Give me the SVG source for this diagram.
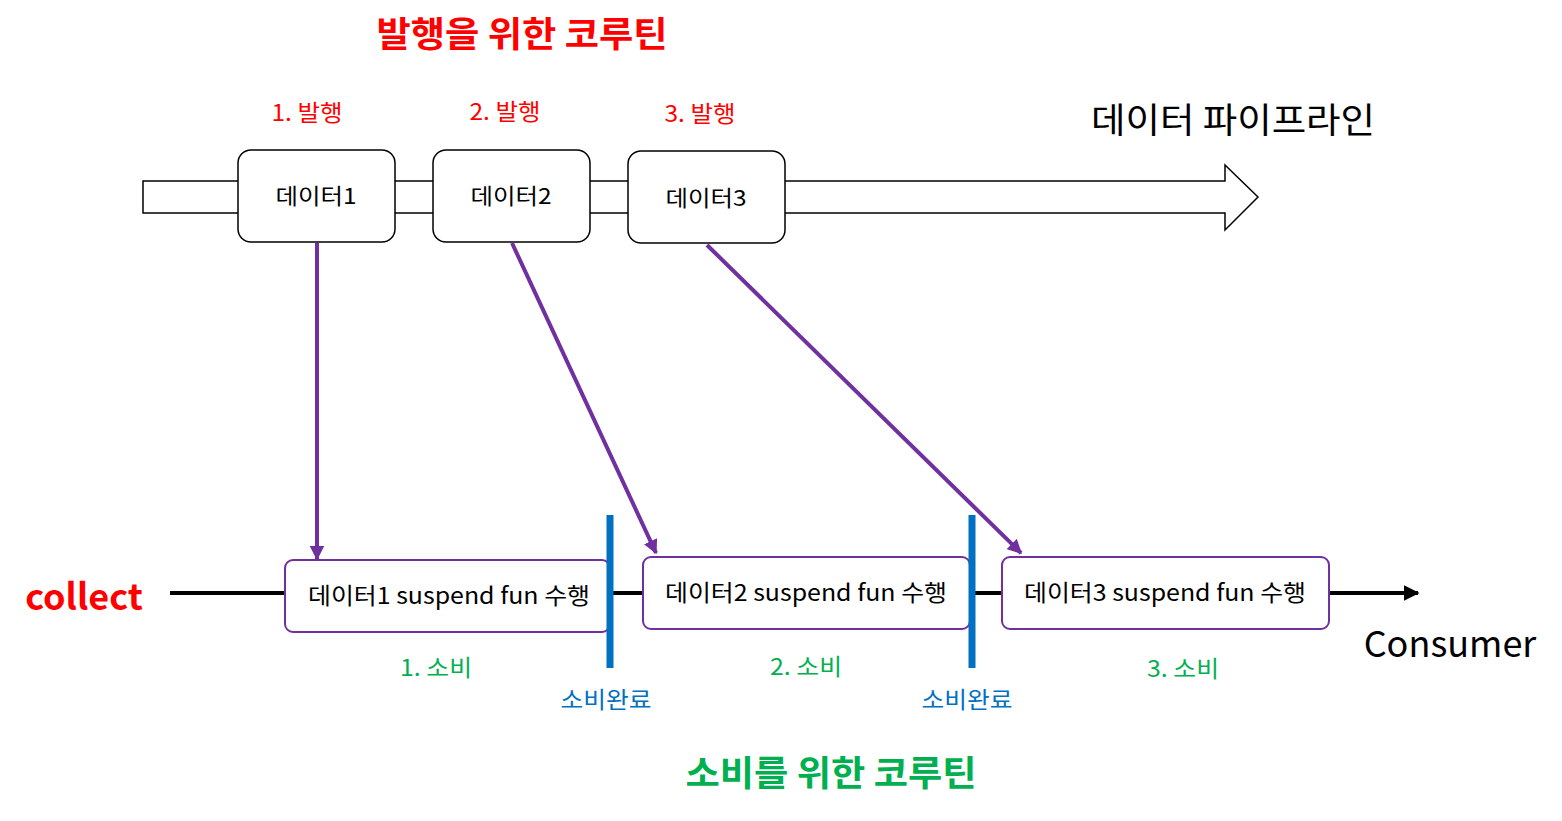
<svg xmlns="http://www.w3.org/2000/svg" width="1562" height="821" viewBox="0 0 1562 821">
<defs>
<style>
text{font-family:"Noto Sans CJK KR","Noto Sans",sans-serif;}
.dbox{fill:#fff;stroke:#000;stroke-width:1.5;}
.sbox{fill:#fff;stroke:#7030A0;stroke-width:2;}
.dt{font-size:22px;fill:#000;text-anchor:middle;}
.st{font-size:23px;fill:#000;text-anchor:middle;}
.red{fill:#FF0000;font-size:23px;text-anchor:middle;}
.grn{fill:#00B050;font-size:23px;text-anchor:middle;}
.blu{fill:#0070C0;font-size:23px;text-anchor:middle;}
.big{font-size:35px;text-anchor:middle;}
.pa{stroke:#7030A0;stroke-width:4;fill:none;marker-end:url(#pm);}
.bar{stroke:#0070C0;stroke-width:7;}
</style>
<marker id="pm" viewBox="0 0 10 10" refX="9" refY="5" markerWidth="3.6" markerHeight="3.6" orient="auto" markerUnits="strokeWidth">
<path d="M0,0 L10,5 L0,10 z" fill="#7030A0"/>
</marker>
<marker id="bm" viewBox="0 0 10 10" refX="9" refY="5" markerWidth="4" markerHeight="4" orient="auto" markerUnits="strokeWidth">
<path d="M0,0 L10,5 L0,10 z" fill="#000"/>
</marker>
</defs>
<rect width="1562" height="821" fill="#fff"/>

<g id="titles">
<text x="522" y="47" class="big" font-weight="bold" fill="#FF0000" textLength="291" lengthAdjust="spacingAndGlyphs">발행을 위한 코루틴</text>
<text x="1233" y="133" class="big" fill="#000" textLength="284" lengthAdjust="spacingAndGlyphs">데이터 파이프라인</text>
<text x="831" y="786" class="big" font-weight="bold" fill="#00B050" textLength="291" lengthAdjust="spacingAndGlyphs">소비를 위한 코루틴</text>
<text x="84" y="610" font-size="36" font-weight="bold" fill="#FF0000" text-anchor="middle">collect</text>
<text x="1450" y="657" font-size="36" fill="#000" text-anchor="middle">Consumer</text>
</g>

<g id="pipeline">
<path d="M143,181 H1225 V165 L1258,197 L1225,230 V213 H143 Z" fill="#fff" stroke="#000" stroke-width="1.5"/>
</g>

<g id="labels">
<text x="307" y="121" class="red" textLength="71" lengthAdjust="spacingAndGlyphs">1. 발행</text>
<text x="505" y="120" class="red" textLength="71" lengthAdjust="spacingAndGlyphs">2. 발행</text>
<text x="700" y="122" class="red" textLength="71" lengthAdjust="spacingAndGlyphs">3. 발행</text>
<text x="436" y="676" class="grn" textLength="72" lengthAdjust="spacingAndGlyphs">1. 소비</text>
<text x="806" y="675" class="grn" textLength="72" lengthAdjust="spacingAndGlyphs">2. 소비</text>
<text x="1183" y="677" class="grn" textLength="72" lengthAdjust="spacingAndGlyphs">3. 소비</text>
<text x="606" y="708" class="blu" textLength="91" lengthAdjust="spacingAndGlyphs">소비완료</text>
<text x="967" y="708" class="blu" textLength="91" lengthAdjust="spacingAndGlyphs">소비완료</text>
</g>

<g id="timeline">
<line x1="170" y1="593" x2="1418" y2="593" stroke="#000" stroke-width="4" marker-end="url(#bm)"/>
</g>

<g id="data1"><rect x="238" y="150" width="157" height="92" rx="13" class="dbox"/><text x="316" y="204" class="dt" textLength="81" lengthAdjust="spacingAndGlyphs">데이터1</text></g>
<g id="data2"><rect x="433" y="150" width="157" height="92" rx="13" class="dbox"/><text x="511" y="204" class="dt" textLength="81" lengthAdjust="spacingAndGlyphs">데이터2</text></g>
<g id="data3"><rect x="628" y="151" width="157" height="92" rx="13" class="dbox"/><text x="706" y="206" class="dt" textLength="81" lengthAdjust="spacingAndGlyphs">데이터3</text></g>

<g id="susp1"><rect x="285" y="560" width="325" height="72" rx="8" class="sbox"/><text x="449" y="604" class="st" textLength="282" lengthAdjust="spacingAndGlyphs">데이터1 suspend fun 수행</text></g>
<g id="susp2"><rect x="643" y="557" width="327" height="72" rx="8" class="sbox"/><text x="806" y="601" class="st" textLength="282" lengthAdjust="spacingAndGlyphs">데이터2 suspend fun 수행</text></g>
<g id="susp3"><rect x="1002" y="557" width="327" height="72" rx="8" class="sbox"/><text x="1165" y="601" class="st" textLength="282" lengthAdjust="spacingAndGlyphs">데이터3 suspend fun 수행</text></g>

<g id="bars">
<line x1="610" y1="515" x2="610" y2="668" class="bar"/>
<line x1="972" y1="515" x2="972" y2="668" class="bar"/>
</g>

<g id="connectors">
<line x1="317" y1="243" x2="317" y2="559" class="pa"/>
<line x1="512" y1="243" x2="656" y2="553" class="pa"/>
<line x1="707" y1="245" x2="1021" y2="553" class="pa"/>
</g>
</svg>
